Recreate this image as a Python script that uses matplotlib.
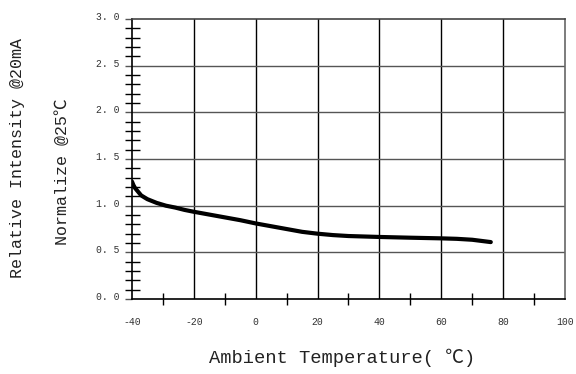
import numpy as np
import matplotlib
matplotlib.use("Agg")
import matplotlib.pyplot as plt
from matplotlib.ticker import FixedLocator
from matplotlib.transforms import ScaledTranslation

# curve
temp = [-40, -39.5, -39, -38, -37, -35, -32, -29, -26, -23, -20, -15, -10, -5,
        0, 5, 10, 15, 20, 25, 30, 40, 50, 60, 65, 70, 76]
intensity = [1.26, 1.22, 1.19, 1.15, 1.11, 1.07, 1.03, 1.00, 0.98, 0.955, 0.935,
             0.905, 0.875, 0.845, 0.81, 0.78, 0.75, 0.72, 0.70, 0.685, 0.675,
             0.665, 0.657, 0.65, 0.645, 0.635, 0.61]

xticks = [-40, -20, 0, 20, 40, 60, 80, 100]
yticks = [0.0, 0.5, 1.0, 1.5, 2.0, 2.5, 3.0]
ylabels = ["0. 0", "0. 5", "1. 0", "1. 5", "2. 0", "2. 5", "3. 0"]

mono = ["Liberation Mono", "DejaVu Sans Mono", "Noto Sans CJK SC"]

fig = plt.figure(figsize=(5.76, 3.74), dpi=100)
ax = fig.add_axes([0.229, 0.2005, 0.752, 0.7485])

ax.plot(temp, intensity, color="black", lw=3.0, solid_capstyle="round")

ax.set_xlim(-40, 100)
ax.set_ylim(0, 3.0)

ax.set_xticks(xticks)
ax.set_xticklabels([str(t) for t in xticks], fontsize=7, family=mono)
ax.xaxis.set_minor_locator(FixedLocator([-30, -10, 10, 30, 50, 70, 90]))
ax.set_yticks(yticks)
ax.set_yticklabels(ylabels, fontsize=7, family=mono)
ax.yaxis.set_minor_locator(FixedLocator([v / 10 for v in range(31) if v % 5]))

ax.tick_params(axis="x", which="major", length=0, pad=13)
ax.tick_params(axis="x", which="minor", direction="inout", length=8.6, width=1.0)
ax.tick_params(axis="y", which="major", direction="out", length=5, width=1.0,
               color="#555555", pad=4)
ax.tick_params(axis="y", which="minor", direction="inout", length=10.8, width=1.0)

# y labels sit a little above their gridlines
for lab in ax.get_yticklabels():
    lab.set_transform(lab.get_transform() + ScaledTranslation(0, 3 / 100, fig.dpi_scale_trans))
    lab.set_color("#333333")
for lab in ax.get_xticklabels():
    lab.set_color("#333333")

ax.grid(False)
for x in xticks[1:-1]:
    ax.axvline(x, color="black", lw=1.0, zorder=1)
for y in yticks[1:-1]:
    ax.axhline(y, color="#555555", lw=1.0, zorder=1)

ax.spines["left"].set_color("black")
ax.spines["bottom"].set_color("black")
ax.spines["top"].set_color("#444444")
ax.spines["right"].set_color("#666666")
for s in ax.spines.values():
    s.set_linewidth(1.2)

fig.text(0.031, 0.578, "Relative Intensity @20mA", rotation=90, ha="center",
         va="center", fontsize=12, family=mono, color="#222222")
fig.text(0.108, 0.54, "Normalize @25℃", rotation=90, ha="center",
         va="center", fontsize=12, family=mono, color="#222222")
fig.text(0.594, 0.043, "Ambient Temperature( ℃)", ha="center", va="center",
         fontsize=13.5, family=mono, color="#222222")

fig.savefig("out.png", dpi=100)
